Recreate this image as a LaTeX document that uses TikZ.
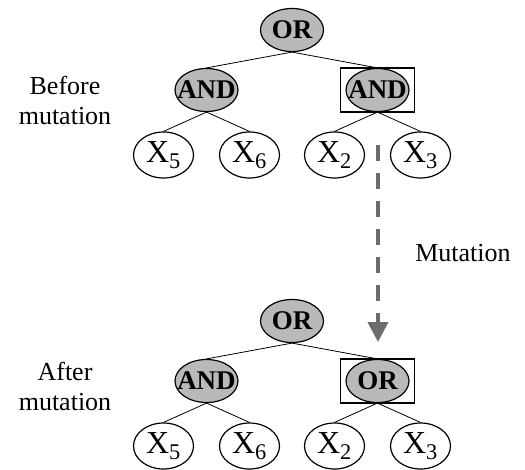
\documentclass[tikz,border=0pt]{standalone}
\usepackage{fontspec}
\setmainfont{Liberation Serif}
\usetikzlibrary{shapes.geometric,arrows.meta,fit}
\tikzstyle{gate} = [draw, ellipse, fill=gray!55, line width=1.2pt, minimum width=63pt, minimum height=43pt, inner xsep=-7pt, inner ysep=0pt, font=\fontsize{27}{27}\selectfont\bfseries]
\tikzstyle{leaf} = [draw, ellipse, fill=white, line width=1.2pt, minimum width=60pt, minimum height=46pt, inner sep=0pt, font=\fontsize{32}{32}\selectfont]
\tikzstyle{mutbox} = [draw, line width=1.6pt, inner xsep=5pt, inner ysep=0pt]
\tikzstyle{lbl} = [align=center, font=\fontsize{26}{30}\selectfont]
\tikzstyle{mutarrow} = [gray!85!black, line width=4pt, dash pattern=on 16pt off 12pt, -{Triangle[width=20pt,length=20pt]}]

\begin{document}
\begin{tikzpicture}[x=1pt, y=-1pt,
          level 1/.style={level distance=60pt, sibling distance=171pt},
          level 2/.style={level distance=65pt, sibling distance=86pt},
          edge from parent/.style={draw, line width=0.8pt},
          edge from parent path={(\tikzparentnode.south) -- (\tikzchildnode.north)}]
  \useasboundingbox (0,0) rectangle (525,469);
  % before
  \node[gate] (orA) at (292,30) {OR}
    child { node[gate] (andA1) {AND}
      child { node[leaf] (x5A) {X\textsubscript{5}} }
      child { node[leaf] (x6A) {X\textsubscript{6}} }
    }
    child { node[gate] (andA2) {AND}
      child { node[leaf] (x2A) {X\textsubscript{2}} }
      child { node[leaf] (x3A) {X\textsubscript{3}} }
    };
  \node[mutbox, fit=(andA2)] (boxA) {};
  % after
  \node[gate] (orB) at (292,321) {OR}
    child { node[gate] (andB1) {AND}
      child { node[leaf] (x5B) {X\textsubscript{5}} }
      child { node[leaf] (x6B) {X\textsubscript{6}} }
    }
    child { node[gate] (orB2) {OR}
      child { node[leaf] (x2B) {X\textsubscript{2}} }
      child { node[leaf] (x3B) {X\textsubscript{3}} }
    };
  \node[mutbox, fit=(orB2)] (boxB) {};
  % mutation
  \coordinate (mtop) at (378,145);
  \coordinate (mbot) at (378,342);
  \draw[mutarrow] (mtop) -- (mbot);
  \node[lbl] (mut) at (463,253) {Mutation};
  \node[lbl] (before) at (65,100) {Before\\mutation};
  \node[lbl] (after) at (65,386) {After\\mutation};
\end{tikzpicture}
\end{document}
